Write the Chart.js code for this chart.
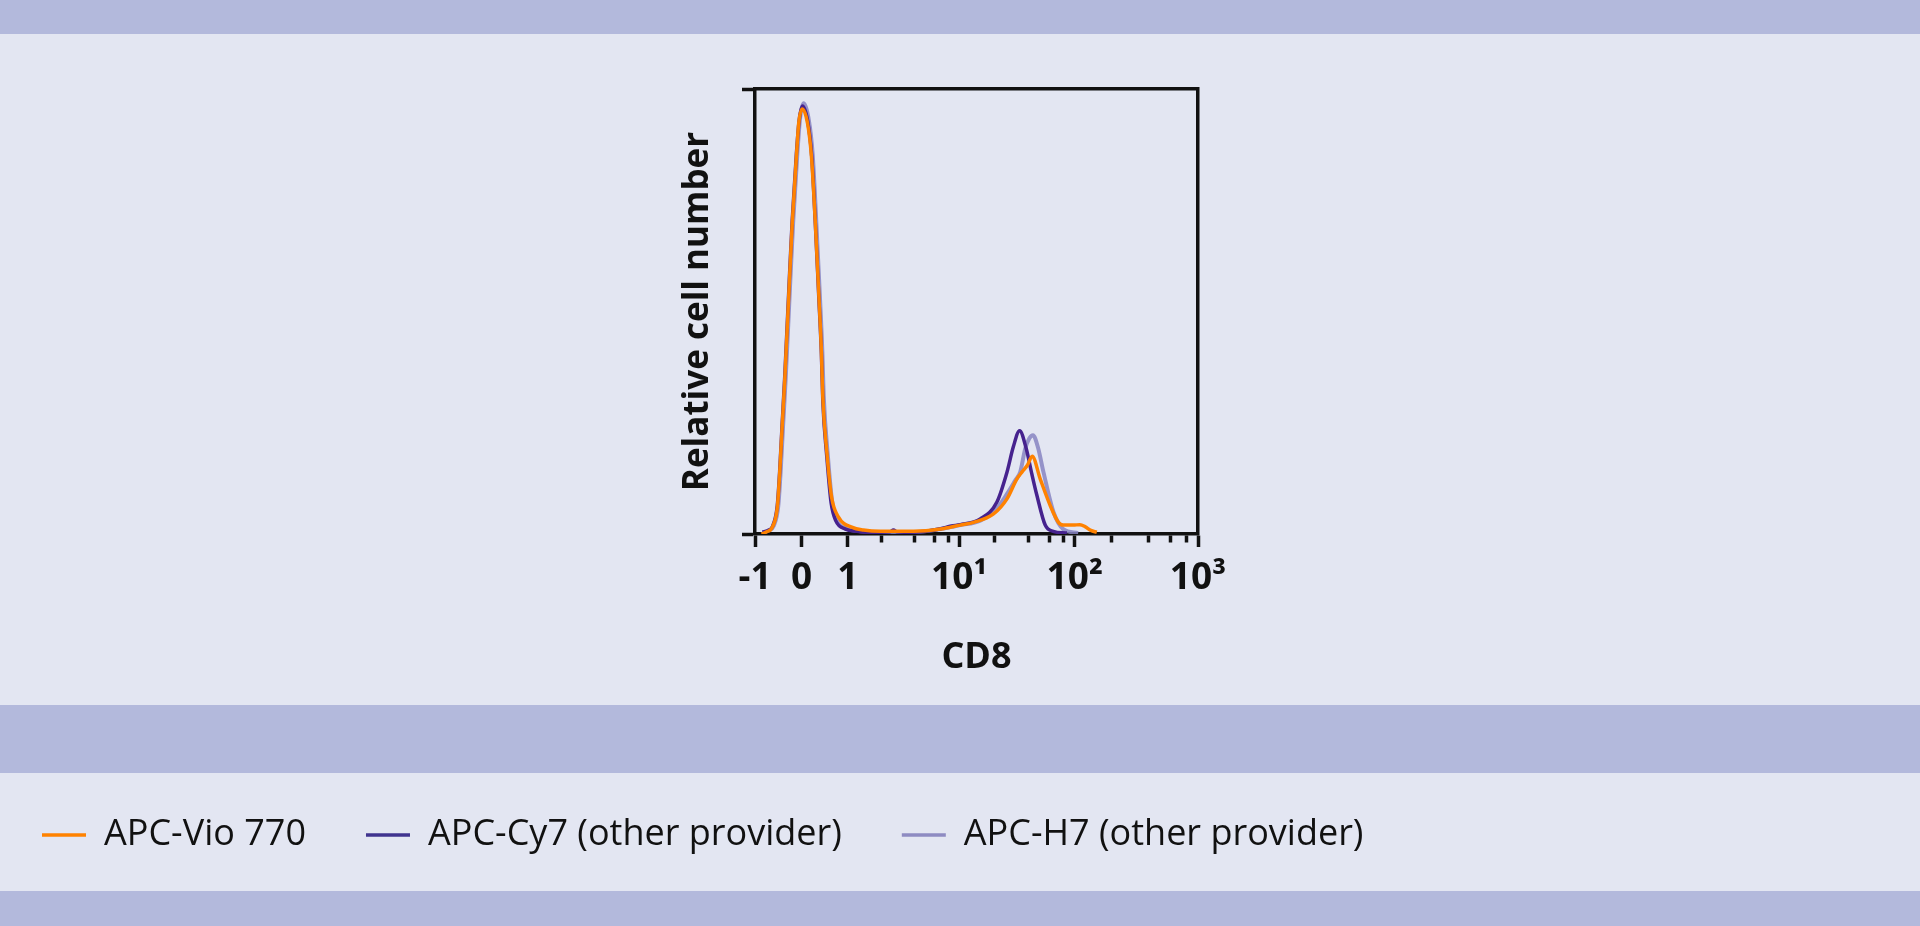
<!DOCTYPE html>
<html>
<head>
<meta charset="utf-8">
<script src="https://cdn.jsdelivr.net/npm/chart.js@4/dist/chart.umd.min.js"></script>
<style>
    html, body { margin: 0; padding: 0; background: #e3e6f2; overflow: hidden; }
    #wrap { width: 1920px; height: 926px; position: relative; }
</style>
</head>
<body>
<div id="wrap"><canvas id="cd8Chart"></canvas></div>
<script>
// CD8 staining histogram, three APC tandem conjugates on a biexponential axis

var seriesNames = ['APC-Vio 770', 'APC-Cy7 (other provider)', 'APC-H7 (other provider)'];

// APC-Vio 770
var vio770X = [-0.86, -0.75, -0.63, -0.52, -0.47, -0.42, -0.36, -0.27, -0.20, -0.11, -0.06, 0.015, 0.13, 0.215, 0.30, 0.37,
    0.43, 0.46, 0.55, 0.65, 0.80, 1.1, 1.38, 1.96, 3.9, 6.8, 10.2, 13.3, 19.8, 25.9, 31.6, 34.9, 39.0, 42.8, 50.2, 61.3,
    72.3, 79.4, 97, 110, 122, 135, 151];
var vio770Y = [0, 0.5, 1.5, 6.0, 13.6, 23.4, 34.7, 54.6, 69.7, 84.8, 92.3, 95.5, 92.3, 84.8, 69.7, 54.6,
    41.1, 30.9, 18.1, 8.3, 3.8, 1.5, 0.9, 0.6, 0.6, 1.1, 2.0, 2.6, 4.5, 7.9, 12.4, 13.9, 15.5, 17.5, 12.4, 6.4,
    2.6, 2.0, 2.0, 2.1, 1.6, 0.8, 0.4];

// APC-Cy7 (other provider)
var cy7X = [-0.84, -0.72, -0.62, -0.52, -0.47, -0.42, -0.36, -0.27, -0.20, -0.11, -0.05, 0.02, 0.13, 0.22, 0.30, 0.37,
    0.43, 0.46, 0.55, 0.64, 0.74, 0.95, 1.2, 1.5, 2.0, 2.4, 2.57, 2.75, 3.2, 4.5, 6.8, 8.5, 10.2, 15.2, 21.2, 25.9,
    29.4, 33.3, 38.0, 42.5, 47.0, 55.5, 65.1, 85.5];
var cy7Y = [0.4, 0.8, 1.8, 6.5, 14, 24, 35.5, 55.5, 70.5, 85.5, 93, 96.2, 93, 85, 69.5, 54,
    40.5, 30, 17, 7, 3, 1.1, 0.6, 0.4, 0.4, 0.5, 0.9, 0.5, 0.4, 0.5, 1.2, 1.8, 2.1, 3.4, 7.2, 13.9,
    19.6, 23.2, 19.2, 13.5, 8.7, 2.0, 0.6, 0.2];

// APC-H7 (other provider)
var h7X = [-0.83, -0.70, -0.60, -0.50, -0.45, -0.40, -0.34, -0.25, -0.18, -0.09, -0.03, 0.045, 0.15, 0.24, 0.32, 0.39,
    0.45, 0.48, 0.57, 0.66, 0.76, 0.97, 1.2, 1.5, 2.0, 3.0, 4.5, 6.8, 8.5, 10.2, 15.2, 21.2, 25.9, 30.5, 33.7, 37.3,
    40.5, 43.5, 48, 53.6, 65.5, 79.4, 106.5];
var h7Y = [0.3, 0.8, 1.8, 6.3, 13.8, 23.7, 35, 55, 70, 85.5, 93.5, 96.8, 93.5, 85.5, 70, 55,
    41, 31, 17.5, 7.5, 3.2, 1.2, 0.7, 0.5, 0.4, 0.4, 0.5, 1.1, 1.6, 2.0, 3.0, 5.8, 9.0, 12.0, 13.9, 19.2,
    21.5, 22.2, 19.5, 13.9, 4.9, 1.1, 0.2];

var majorTickValues = [-1, 0, 1, 10, 100, 1000];
var majorTickLabels = ['-1', '0', '1', '10\u00b9', '10\u00b2', '10\u00b3'];
var minorTickValues = [2, 4, 6, 8, 20, 40, 60, 80, 200, 400, 600, 800];

// where each decade boundary sits along the axis (fraction of width): linear around 0, log above 1
var ANCHOR_VALUES = [-1, 0, 1, 10, 100, 1000];
var ANCHOR_FRAC = [0, 0.1050, 0.2094, 0.4610, 0.7218, 1];

function biexFrac(v) {
    if (v <= 1) {
        if (v <= 0) return ANCHOR_FRAC[0] + (v + 1) * (ANCHOR_FRAC[1] - ANCHOR_FRAC[0]);
        return ANCHOR_FRAC[1] + v * (ANCHOR_FRAC[2] - ANCHOR_FRAC[1]);
    }
    var lv = Math.log10(v);
    var seg = Math.min(Math.floor(lv), 2);
    var i = seg + 2;
    return ANCHOR_FRAC[i] + (lv - seg) * (ANCHOR_FRAC[i + 1] - ANCHOR_FRAC[i]);
}

function biexValue(f) {
    if (f <= ANCHOR_FRAC[2]) {
        if (f <= ANCHOR_FRAC[1]) return (f - ANCHOR_FRAC[0]) / (ANCHOR_FRAC[1] - ANCHOR_FRAC[0]) - 1;
        return (f - ANCHOR_FRAC[1]) / (ANCHOR_FRAC[2] - ANCHOR_FRAC[1]);
    }
    for (var i = 2; i < ANCHOR_FRAC.length - 1; i++) {
        if (f <= ANCHOR_FRAC[i + 1] || i === ANCHOR_FRAC.length - 2) {
            var t = (f - ANCHOR_FRAC[i]) / (ANCHOR_FRAC[i + 1] - ANCHOR_FRAC[i]);
            return Math.pow(10, (i - 2) + t);
        }
    }
    return ANCHOR_VALUES[ANCHOR_VALUES.length - 1];
}

class BiexScale extends Chart.LinearScale {
    buildTicks() {
        var all = majorTickValues.concat(minorTickValues).slice().sort(function (a, b) { return a - b; });
        return all.map(function (v) { return { value: v }; });
    }
    getPixelForValue(value) {
        if (value === null || value === undefined || isNaN(value)) return NaN;
        return this.getPixelForDecimal(biexFrac(value));
    }
    getValueForPixel(pixel) {
        return biexValue(this.getDecimalForPixel(pixel));
    }
    // minor ticks are drawn shorter than the decade ticks
    _computeGridLineItems(chartArea) {
        var items = super._computeGridLineItems(chartArea);
        var self = this;
        var minorPx = minorTickValues.map(function (v) { return self.getPixelForValue(v); });
        items.forEach(function (it) {
            for (var k = 0; k < minorPx.length; k++) {
                if (Math.abs(it.tx1 - minorPx[k]) < 1.5) { it.ty2 = it.ty2 - 4.5; break; }
            }
        });
        return items;
    }
}
BiexScale.id = 'biex';
BiexScale.defaults = Chart.LinearScale.defaults;
Chart.register(BiexScale);

function toPoints(xs, ys) {
    var pts = [];
    for (var i = 0; i < xs.length; i++) pts.push({ x: xs[i], y: ys[i] });
    return pts;
}

var FONT = "'Open Sans', 'DejaVu Sans', sans-serif";
var INK = '#111111';
var PANEL = '#e3e6f2';
var BAND = '#b3b9dc';

var backgroundBands = {
    id: 'backgroundBands',
    beforeDraw: function (chart) {
        var ctx = chart.ctx;
        ctx.save();
        ctx.fillStyle = PANEL;
        ctx.fillRect(0, 0, chart.width, chart.height);
        ctx.fillStyle = BAND;
        ctx.fillRect(0, 0, chart.width, 34);
        ctx.fillRect(0, 705, chart.width, 68);
        ctx.fillRect(0, 891, chart.width, chart.height - 891);
        ctx.restore();
    }
};

function frameAxis(position) {
    return {
        type: 'linear',
        position: position,
        display: true,
        border: { display: true, color: INK, width: 3.5 },
        grid: { drawOnChartArea: false, drawTicks: false },
        ticks: { display: false }
    };
}

var topFrame = frameAxis('top');
var rightFrame = frameAxis('right');
rightFrame.afterFit = function (scale) { scale.width = 722; };

new Chart(document.getElementById('cd8Chart').getContext('2d'), {
    type: 'line',
    data: {
        datasets: [
            {
                label: seriesNames[0],
                data: toPoints(vio770X, vio770Y),
                borderColor: '#ff8200',
                backgroundColor: '#ff8200',
                borderWidth: 3.5,
                pointRadius: 0,
                cubicInterpolationMode: 'monotone',
            },
            {
                label: seriesNames[1],
                data: toPoints(cy7X, cy7Y),
                borderColor: '#46228e',
                backgroundColor: '#40348f',
                borderWidth: 3.5,
                pointRadius: 0,
                cubicInterpolationMode: 'monotone',
            },
            {
                label: seriesNames[2],
                data: toPoints(h7X, h7Y),
                borderColor: 'rgba(135, 132, 194, 0.85)',
                backgroundColor: '#8e8bc2',
                borderWidth: 4,
                pointRadius: 0,
                cubicInterpolationMode: 'monotone',
            },
        ],
    },
    options: {
        responsive: true,
        maintainAspectRatio: false,
        animation: false,
        events: [],
        layout: {
            autoPadding: false,
            padding: { left: -18, right: 0, top: 89, bottom: 63 },
        },
        scales: {
            x: {
                type: 'biex',
                position: 'bottom',
                min: -1,
                max: 1000,
                border: { display: true, color: INK, width: 3.5 },
                grid: { drawOnChartArea: false, tickLength: 13, tickWidth: 3.5, tickColor: INK },
                ticks: {
                    autoSkip: false,
                    maxRotation: 0,
                    padding: 9,
                    color: INK,
                    font: { family: FONT, size: 37, weight: 'bold' },
                    callback: function (value) {
                        var i = majorTickValues.indexOf(value);
                        return i >= 0 ? majorTickLabels[i] : '';
                    },
                },
                title: {
                    display: true,
                    text: 'CD8',
                    color: INK,
                    font: { family: FONT, size: 36, weight: 'bold' },
                    padding: { top: 10, bottom: 78 },
                },
                afterFit: function (scale) { scale.height = 223; },
            },
            y: {
                type: 'linear',
                position: 'left',
                min: 0,
                max: 100,
                border: { display: true, color: INK, width: 3.5 },
                grid: { drawOnChartArea: false, tickLength: 13, tickWidth: 3.5, tickColor: INK },
                ticks: { display: false, stepSize: 100 },
                title: {
                    display: true,
                    text: 'Relative cell number',
                    color: INK,
                    font: { family: FONT, size: 35, weight: 'bold' },
                    padding: { top: 695, bottom: 10 },
                },
                afterFit: function (scale) { scale.width = 773; },
            },
            xTop: topFrame,
            yRight: rightFrame,
        },
        plugins: {
            tooltip: { enabled: false },
            legend: {
                display: true,
                position: 'bottom',
                align: 'start',
                labels: {
                    color: INK,
                    font: { family: FONT, size: 36 },
                    boxWidth: 44,
                    boxHeight: 3.5,
                    padding: 60,
                    generateLabels: function (chart) {
                        var items = Chart.defaults.plugins.legend.labels.generateLabels(chart);
                        items.forEach(function (it) { it.lineWidth = 0; });
                        return items;
                    },
                },
            },
        },
    },
    plugins: [backgroundBands],
});
</script>
</body>
</html>
